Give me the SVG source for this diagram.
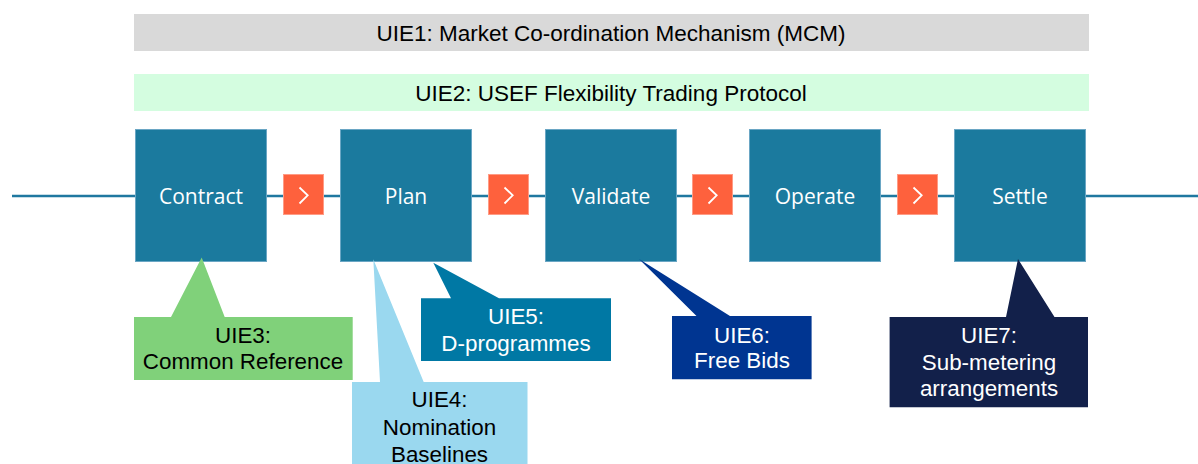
<svg xmlns="http://www.w3.org/2000/svg" width="1198" height="464" viewBox="0 0 1198 464">
<style>
.bar{font-family:"Liberation Sans",Arial,sans-serif;font-size:22.5px;fill:#000;text-anchor:middle}
.proc rect{fill:#1b7a9e;stroke:#6aa6c4;stroke-width:1}
.proc text{font-family:"Open Sans","DejaVu Sans",sans-serif;font-size:21px;fill:#fff;text-anchor:middle}
.chev rect{fill:#fe613d;stroke:#ff9b85;stroke-width:1}
.chev path{fill:none;stroke:#fff;stroke-width:1.8}
.call text{font-family:"Liberation Sans",Arial,sans-serif;font-size:22.4px;text-anchor:middle}
.dark text{fill:#fff}
.light text{fill:#000}
</style>
<rect width="1198" height="464" fill="#fff"/>
<g id="uie1">
<rect x="134" y="14" width="955" height="37" fill="#d9d9d9"/>
<text class="bar" x="611" y="40.5">UIE1: Market Co-ordination Mechanism (MCM)</text>
</g>
<g id="uie2">
<rect x="134" y="74" width="955" height="37" fill="#d4fde0"/>
<text class="bar" x="611" y="100.5">UIE2: USEF Flexibility Trading Protocol</text>
</g>
<g id="connectors">
<line x1="12" y1="196" x2="1198" y2="196" stroke="#1f78a0" stroke-width="2.6"/>
<g class="chev"><rect x="283.5" y="174.5" width="40" height="40"/><path d="M299.5,187.5 L307.7,195.3 L299.5,203.5"/></g>
<g class="chev"><rect x="488.5" y="174.5" width="40" height="40"/><path d="M504.5,187.5 L512.7,195.3 L504.5,203.5"/></g>
<g class="chev"><rect x="692.5" y="174.5" width="40" height="40"/><path d="M708.5,187.5 L716.7,195.3 L708.5,203.5"/></g>
<g class="chev"><rect x="897.5" y="174.5" width="40" height="40"/><path d="M913.5,187.5 L921.7,195.3 L913.5,203.5"/></g>
</g>
<g id="contract" class="proc"><rect x="135.5" y="129.5" width="131" height="132"/><text x="201" y="204">Contract</text></g>
<g id="plan" class="proc"><rect x="340.5" y="129.5" width="131" height="132"/><text x="406" y="204">Plan</text></g>
<g id="validate" class="proc"><rect x="545.5" y="129.5" width="131" height="132"/><text x="611" y="204">Validate</text></g>
<g id="operate" class="proc"><rect x="749.5" y="129.5" width="131" height="132"/><text x="815" y="204">Operate</text></g>
<g id="settle" class="proc"><rect x="954.5" y="129.5" width="131" height="132"/><text x="1020" y="204">Settle</text></g>
<g id="uie3" class="call light">
<path d="M134,317 H171 L201.7,257.5 L224.7,317 H352.7 V380 H134 Z" fill="#80d17a"/>
<text x="243" y="342.7">UIE3:</text>
<text x="243" y="369.3">Common Reference</text>
</g>
<g id="uie4" class="call light">
<path d="M352,382 H380 L373.3,259.3 L423.7,382 H527.5 V464 H352 Z" fill="#9ad8ef"/>
<text x="439.5" y="407">UIE4:</text>
<text x="439.5" y="434.7">Nomination</text>
<text x="439.5" y="461.5">Baselines</text>
</g>
<g id="uie5" class="call dark">
<path d="M421,298.3 H451 L433.3,262.7 L499,298.3 H611 V361 H421 Z" fill="#0078a4"/>
<text x="516" y="324">UIE5:</text>
<text x="516" y="350.7">D-programmes</text>
</g>
<g id="uie6" class="call dark">
<path d="M672,316 H696.5 L639,259 L730,316 H811.6 V379.3 H672 Z" fill="#003591"/>
<text x="742" y="342.7">UIE6:</text>
<text x="742" y="368.3">Free Bids</text>
</g>
<g id="uie7" class="call dark">
<path d="M889.6,317 H1006 L1018,259 L1054.5,317 H1088 V407.3 H889.6 Z" fill="#12204a"/>
<text x="989" y="342.7">UIE7:</text>
<text x="989" y="369.5">Sub-metering</text>
<text x="989" y="396">arrangements</text>
</g>
</svg>
